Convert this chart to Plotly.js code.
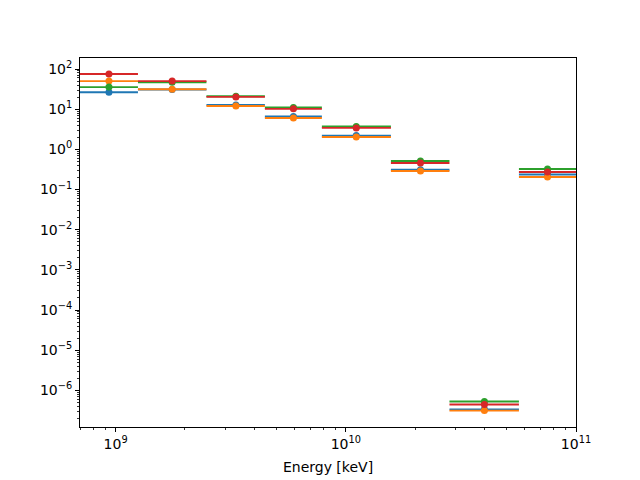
<!DOCTYPE html>
<html>
<head>
<meta charset="utf-8">
<script src="https://cdn.plot.ly/plotly-3.0.1.min.js"></script>
<style>html,body{margin:0;padding:0;background:#fff;}#chart{width:640px;height:480px;}</style>
</head>
<body>
<div id="chart"></div>
<script>
// Energy bins (keV)
var binLow    = [7.0e8, 1.25e9, 2.48e9, 4.45e9, 7.87e9, 1.57e10, 2.82e10, 5.65e10];
var binHigh   = [1.25e9, 2.48e9, 4.45e9, 7.87e9, 1.57e10, 2.82e10, 5.65e10, 1.0e11];
var binCenter = [9.35e8, 1.76e9, 3.33e9, 5.92e9, 1.11e10, 2.11e10, 4.0e10, 7.52e10];

// Series values
var seriesBlue   = [26.5, 31.0, 12.8, 6.6, 2.20, 0.312, 3.38e-7, 0.236];
var seriesOrange = [50.0, 31.3, 12.0, 6.05, 2.04, 0.290, 3.15e-7, 0.205];
var seriesGreen  = [35.5, 47.0, 21.0, 11.0, 3.70, 0.515, 5.30e-7, 0.325];
var seriesRed    = [75.0, 50.0, 20.2, 10.2, 3.42, 0.458, 4.45e-7, 0.274];

var names  = ['blue', 'orange', 'green', 'red'];
var values = [seriesBlue, seriesOrange, seriesGreen, seriesRed];
var colors = ['#1f77b4', '#ff7f0e', '#2ca02c', '#d62728'];

var yTickVals = [1e-6, 1e-5, 1e-4, 1e-3, 1e-2, 1e-1, 1e0, 1e1, 1e2];
var yTickText = ['10<sup>−6</sup>', '10<sup>−5</sup>', '10<sup>−4</sup>', '10<sup>−3</sup>', '10<sup>−2</sup>', '10<sup>−1</sup>', '10<sup>0</sup>', '10<sup>1</sup>', '10<sup>2</sup>'];
var xTickVals = [1e9, 1e10, 1e11];
var xTickText = ['10<sup>9</sup>', '10<sup>10</sup>', '10<sup>11</sup>'];

var errPlus  = binCenter.map(function (c, i) { return binHigh[i] - c; });
var errMinus = binCenter.map(function (c, i) { return c - binLow[i]; });

var traces = values.map(function (v, k) {
  return {
    type: 'scatter',
    mode: 'markers',
    name: names[k],
    x: binCenter,
    y: v,
    marker: {color: colors[k], size: 7},
    error_x: {type: 'data', symmetric: false, array: errPlus, arrayminus: errMinus,
              color: colors[k], thickness: 1.9, width: 0},
    showlegend: false,
    cliponaxis: true
  };
});

var axisCommon = {
  type: 'log',
  showgrid: false,
  zeroline: false,
  showline: true,
  linecolor: '#000',
  linewidth: 1,
  mirror: true,
  ticks: 'outside',
  ticklen: 4,
  tickwidth: 1,
  tickcolor: '#000',
  tickfont: {family: 'DejaVu Sans', size: 14, color: '#000'},
  tickmode: 'array',
  minor: {ticks: 'outside', ticklen: 2, tickwidth: 0.8, tickcolor: '#000', dtick: 'D1', showgrid: false}
};

var layout = {
  width: 640,
  height: 480,
  margin: {l: 80, r: 64, t: 58, b: 53},
  paper_bgcolor: '#fff',
  plot_bgcolor: '#fff',
  font: {family: 'DejaVu Sans', size: 14, color: '#000'},
  xaxis: Object.assign({}, axisCommon, {
    range: [Math.log10(7.0e8), 11],
    tickvals: xTickVals,
    ticktext: xTickText,
    title: {text: 'Energy [keV]', font: {family: 'DejaVu Sans', size: 14, color: '#000'}, standoff: 11}
  }),
  yaxis: Object.assign({}, axisCommon, {
    range: [-6.91, 2.274],
    tickvals: yTickVals,
    ticktext: yTickText
  })
};

Plotly.newPlot('chart', traces, layout, {displayModeBar: false, staticPlot: true});
</script>
</body>
</html>
